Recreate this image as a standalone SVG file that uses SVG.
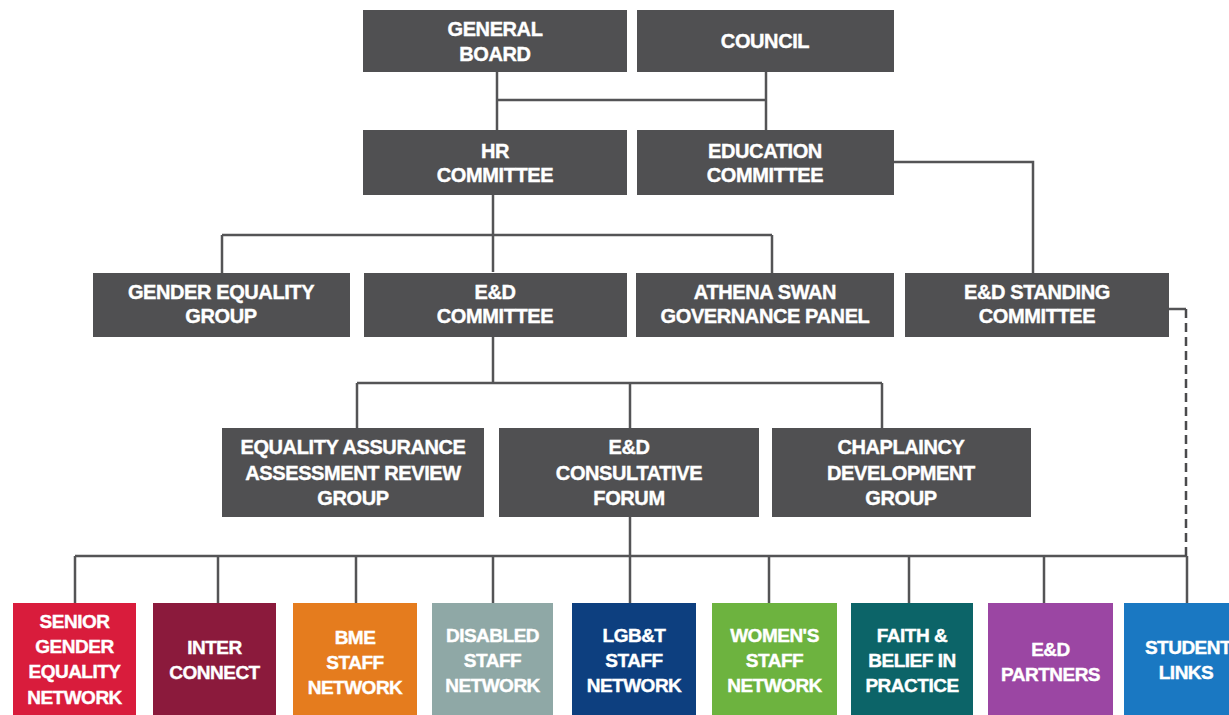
<svg xmlns="http://www.w3.org/2000/svg" width="1229" height="715" viewBox="0 0 1229 715">
<style>
.box{fill:#505052}
.t{font-family:"Liberation Sans",Arial,sans-serif;font-weight:bold;font-size:20px;fill:#ffffff;stroke:#ffffff;stroke-width:0.4;text-anchor:middle;letter-spacing:-0.4px}
.tb{font-family:"Liberation Sans",Arial,sans-serif;font-weight:bold;font-size:19px;fill:#ffffff;stroke:#ffffff;stroke-width:0.4;text-anchor:middle;letter-spacing:-0.5px}
.c{fill:none;stroke:#545456;stroke-width:2.5}
.d{fill:none;stroke:#4a4a4c;stroke-width:2.5;stroke-dasharray:9 5}
</style>
<rect width="1229" height="715" fill="#ffffff"/>
<g id="connectors">
<path class="c" d="M497 72V130M766 72V130M497 100H766"/>
<path class="c" d="M493 195V272M222 235H772M222 235V273M772 235V273"/>
<path class="c" d="M894 162H1033V273"/>
<path class="c" d="M493 337V383M357 383H882M357 383V428M630 383V428M882 383V428"/>
<path class="c" d="M630 517V556M75 556H1187"/>
<path class="c" d="M75 556V603M218 556V603M356 556V603M493 556V603M630 556V603M769 556V603M909 556V603M1044 556V603M1187 556V603"/>
<path class="c" d="M1169 309H1186"/>
<path class="d" d="M1186 309V556"/>
</g>
<g id="general-board"><rect class="box" x="363" y="10" width="264" height="62"/><text class="t" x="495" y="36">GENERAL</text><text class="t" x="495" y="61">BOARD</text></g>
<g id="council"><rect class="box" x="637" y="10" width="257" height="62"/><text class="t" x="765" y="48">COUNCIL</text></g>
<g id="hr-committee"><rect class="box" x="363" y="130" width="264" height="65"/><text class="t" x="495" y="158">HR</text><text class="t" x="495" y="182">COMMITTEE</text></g>
<g id="education-committee"><rect class="box" x="637" y="130" width="257" height="65"/><text class="t" x="765" y="158">EDUCATION</text><text class="t" x="765" y="182">COMMITTEE</text></g>
<g id="gender-equality-group"><rect class="box" x="93" y="273" width="257" height="64"/><text class="t" x="221" y="299">GENDER EQUALITY</text><text class="t" x="221" y="323">GROUP</text></g>
<g id="ed-committee"><rect class="box" x="364" y="273" width="263" height="64"/><text class="t" x="495" y="299">E&amp;D</text><text class="t" x="495" y="323">COMMITTEE</text></g>
<g id="athena-swan"><rect class="box" x="636" y="273" width="258" height="64"/><text class="t" x="765" y="299">ATHENA SWAN</text><text class="t" x="765" y="323">GOVERNANCE PANEL</text></g>
<g id="ed-standing-committee"><rect class="box" x="905" y="273" width="264" height="64"/><text class="t" x="1037" y="299">E&amp;D STANDING</text><text class="t" x="1037" y="323">COMMITTEE</text></g>
<g id="equality-assurance"><rect class="box" x="222" y="428" width="262" height="89"/><text class="t" x="353" y="454">EQUALITY ASSURANCE</text><text class="t" x="353" y="480">ASSESSMENT REVIEW</text><text class="t" x="353" y="505">GROUP</text></g>
<g id="ed-consultative-forum"><rect class="box" x="499" y="428" width="260" height="89"/><text class="t" x="629" y="454">E&amp;D</text><text class="t" x="629" y="480">CONSULTATIVE</text><text class="t" x="629" y="505">FORUM</text></g>
<g id="chaplaincy"><rect class="box" x="772" y="428" width="259" height="89"/><text class="t" x="901" y="454">CHAPLAINCY</text><text class="t" x="901" y="480">DEVELOPMENT</text><text class="t" x="901" y="505">GROUP</text></g>
<g id="senior-gender-equality-network"><rect x="13" y="603" width="123" height="112" fill="#d91c3c"/><text class="tb" x="74.5" y="628">SENIOR</text><text class="tb" x="74.5" y="653">GENDER</text><text class="tb" x="74.5" y="678">EQUALITY</text><text class="tb" x="74.5" y="704">NETWORK</text></g>
<g id="inter-connect"><rect x="153" y="603" width="123" height="112" fill="#8b1a3c"/><text class="tb" x="214.5" y="654">INTER</text><text class="tb" x="214.5" y="679">CONNECT</text></g>
<g id="bme-staff-network"><rect x="293" y="603" width="124" height="112" fill="#e57c1e"/><text class="tb" x="355" y="644">BME</text><text class="tb" x="355" y="669">STAFF</text><text class="tb" x="355" y="694">NETWORK</text></g>
<g id="disabled-staff-network"><rect x="432" y="603" width="121" height="112" fill="#8fa8a6"/><text class="tb" x="492.5" y="642">DISABLED</text><text class="tb" x="492.5" y="667">STAFF</text><text class="tb" x="492.5" y="692">NETWORK</text></g>
<g id="lgbt-staff-network"><rect x="572" y="603" width="124" height="112" fill="#0d3f7f"/><text class="tb" x="634" y="642">LGB&amp;T</text><text class="tb" x="634" y="667">STAFF</text><text class="tb" x="634" y="692">NETWORK</text></g>
<g id="womens-staff-network"><rect x="712" y="603" width="125" height="112" fill="#6db33f"/><text class="tb" x="774.5" y="642">WOMEN'S</text><text class="tb" x="774.5" y="667">STAFF</text><text class="tb" x="774.5" y="692">NETWORK</text></g>
<g id="faith-belief"><rect x="851" y="603" width="122" height="112" fill="#0c6468"/><text class="tb" x="912" y="642">FAITH &amp;</text><text class="tb" x="912" y="667">BELIEF IN</text><text class="tb" x="912" y="692">PRACTICE</text></g>
<g id="ed-partners"><rect x="988" y="603" width="125" height="112" fill="#9b46a3"/><text class="tb" x="1050.5" y="656">E&amp;D</text><text class="tb" x="1050.5" y="681">PARTNERS</text></g>
<g id="student-links"><rect x="1124" y="603" width="128" height="112" fill="#1a78c2"/><text class="tb" x="1188" y="654">STUDENT</text><text class="tb" x="1186" y="679">LINKS</text></g>
</svg>
